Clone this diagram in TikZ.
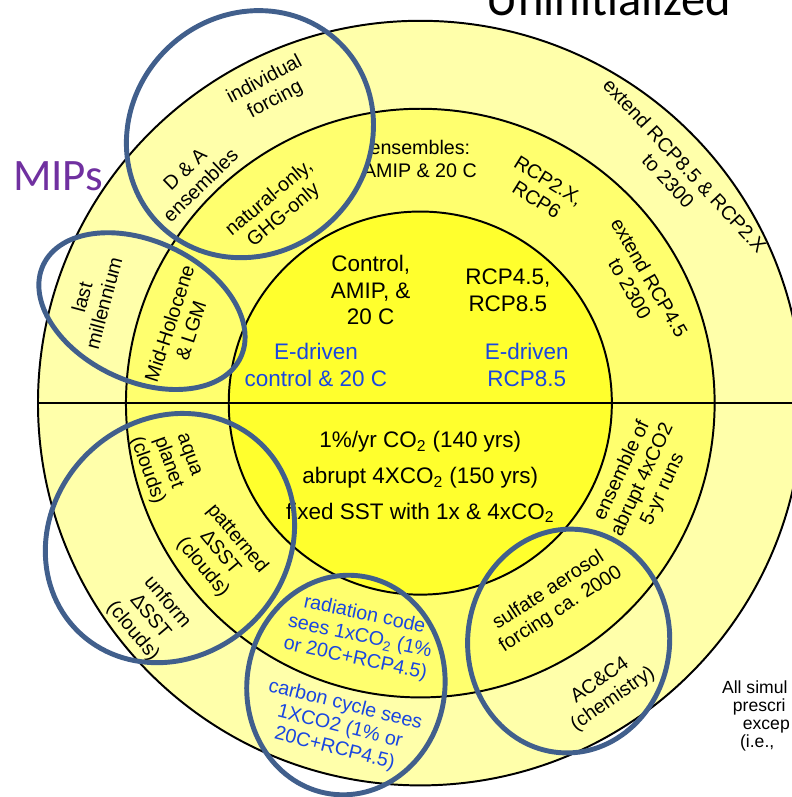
\documentclass[tikz,border=0pt]{standalone}
\usepackage{fontspec}
\setmainfont{Liberation Sans}
\newfontfamily\calibrifont{Carlito}
\definecolor{ringout}{RGB}{255,255,170}
\definecolor{ringmid}{RGB}{255,255,110}
\definecolor{ringin}{RGB}{255,255,45}
\definecolor{mipblue}{RGB}{65,95,140}
\definecolor{edriven}{RGB}{25,70,225}
\definecolor{mippurple}{RGB}{112,48,160}

\begin{document}
\begin{tikzpicture}[
    ring/.style={draw=black, line width=1.4pt},
    lbl/.style={align=center, inner sep=1pt, font=\fontsize{14}{16}\selectfont},
    core/.style={align=center, inner sep=1pt, font=\fontsize{16}{19}\selectfont},
    bluetxt/.style={text=edriven},
    head/.style={anchor=base west, inner sep=0pt, font=\calibrifont\fontsize{32}{36}\selectfont},
    note/.style={anchor=base west, inner sep=0pt, font=\fontsize{12.5}{13}\selectfont},
    mip/.style={draw=mipblue, line width=3.5pt},
  ]
    \useasboundingbox (-10.51,-9.85) rectangle (9.29,10.08);

    % 1. Nested rings and the split line
    \filldraw[ring, fill=ringout] (0,0) circle (9.56);
    \filldraw[ring, fill=ringmid] (0,0) circle (7.36);
    \filldraw[ring, fill=ringin] (0,0) circle (4.79);
    \draw[ring] (-9.56,0) -- (9.56,0);

    % 2. Headings
    \node[head, text=mippurple] (mips) at (-10.19,5.325) {MIPs};
    \node[head, font=\calibrifont\fontsize{34.5}{38}\selectfont] (uninit) at (1.66,9.7) {Uninitialized};

    % 3. Core experiments
    \node[core] (ctrl) at (-1.24,2.825) {Control,\\AMIP, \&\\20 C};
    \node[core] (rcpcore) at (2.19,2.825) {RCP4.5,\\RCP8.5};
    \node[core, bluetxt] (edctrl) at (-2.61,0.95) {E-driven\\control \& 20 C};
    \node[core, bluetxt] (edrcp) at (2.66,0.95) {E-driven\\RCP8.5};
    \node[core, font=\fontsize{16}{25.5}\selectfont] (diag) at (0,-1.85)
        {1\%/yr CO\textsubscript{2} (140 yrs)\\abrupt 4XCO\textsubscript{2} (150 yrs)\\fixed SST with 1x \& 4xCO\textsubscript{2}};

    % 4. Middle ring
    \node[lbl] (ensamip) at (-0.01,6.1) {ensembles:\\AMIP \& 20 C};
    \node[lbl, rotate=-32] (rcpsix) at (3.06,5.325) {RCP2.X,\\RCP6};
    \node[lbl, rotate=-60] (ext45) at (5.49,3.0) {extend RCP4.5\\to 2300};
    \node[lbl, rotate=40] (natghg) at (-3.59,4.9) {natural-only,\\GHG-only};
    \node[lbl, rotate=72] (midhol) at (-6.01,1.9) {Mid-Holocene\\\& LGM};
    \node[lbl, rotate=-70] (aqua) at (-6.34,-1.5) {aqua\\planet\\(clouds)};
    \node[lbl, rotate=-50] (patsst) at (-5.01,-3.75) {patterned\\ΔSST\\(clouds)};
    \node[lbl, bluetxt, rotate=-12] (radcode) at (-1.51,-5.85) {radiation code\\sees 1xCO\textsubscript{2} (1\%\\or 20C+RCP4.5)};
    \node[lbl, rotate=33] (sulfate) at (3.36,-4.925) {sulfate aerosol\\forcing ca. 2000};
    \node[lbl, rotate=65] (abrupt) at (5.56,-1.925) {ensemble of\\abrupt 4xCO2\\5-yr runs};

    % 5. Outer ring
    \node[lbl, rotate=28] (indiv) at (-3.76,7.825) {individual\\forcing};
    \node[lbl, rotate=44] (dna) at (-5.69,5.65) {D \& A\\ensembles};
    \node[lbl, rotate=75] (lastmil) at (-8.19,2.575) {last\\millennium};
    \node[lbl, rotate=-47] (ext85) at (6.41,5.75) {extend RCP8.5 \& RCP2.X\\to 2300};
    \node[lbl, rotate=-50] (unisst) at (-6.76,-5.35) {unform\\ΔSST\\(clouds)};
    \node[lbl, bluetxt, rotate=-14] (carbon) at (-2.01,-8.1) {carbon cycle sees\\1XCO2 (1\% or\\20C+RCP4.5)};
    \node[lbl, rotate=35] (chem) at (4.66,-7.175) {AC\&C4\\(chemistry)};

    % 6. Note, cut by the right edge
    \node[note] (nt1) at (7.54,-7.25) {All simul};
    \node[note] (nt2) at (7.81,-7.7) {prescri};
    \node[note] (nt3) at (8.06,-8.15) {excep};
    \node[note] (nt4) at (7.99,-8.6) {(i.e.,};

    % 7. MIP outlines on top
    \draw[mip, rotate around={45:(-4.26,6.725)}] (-4.26,6.725) ellipse (3.2 and 2.975);
    \draw[mip, rotate around={-25:(-6.96,2.3)}] (-6.96,2.3) ellipse (2.725 and 1.75);
    \draw[mip, rotate around={45:(-6.26,-3.375)}] (-6.26,-3.375) ellipse (3.275 and 2.95);
    \draw[mip, rotate around={-8:(-1.86,-7.05)}] (-1.86,-7.05) ellipse (2.475 and 2.75);
    \draw[mip, rotate around={-5:(3.71,-5.95)}] (3.71,-5.95) ellipse (2.525 and 2.8);
\end{tikzpicture}
\end{document}
